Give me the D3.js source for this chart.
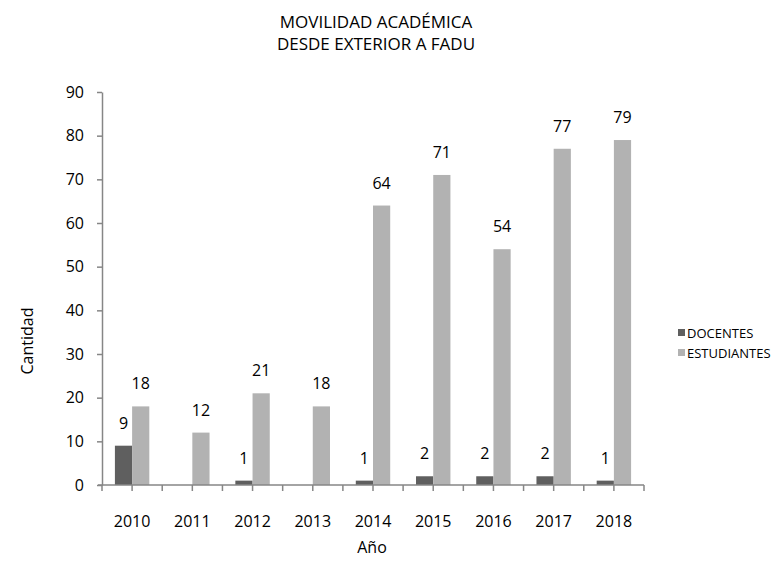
<!DOCTYPE html>
<html>
<head>
<meta charset="utf-8">
<script src="https://cdn.jsdelivr.net/npm/d3@7"></script>
<style>
  body { margin: 0; background: #fff; }
  svg text { font-family: "Open Sans", sans-serif; fill: #000; }
</style>
</head>
<body>
<svg class="chart-svg" width="780" height="561"></svg>
<script>
// data
const years = ["2010", "2011", "2012", "2013", "2014", "2015", "2016", "2017", "2018"];
const docentes = [9, 0, 1, 0, 1, 2, 2, 2, 1];
const estudiantes = [18, 12, 21, 18, 64, 71, 54, 77, 79];
const seriesNames = ["DOCENTES", "ESTUDIANTES"];
const seriesColors = ["#5f5f5f", "#b2b2b2"];
const yTicks = [0, 10, 20, 30, 40, 50, 60, 70, 80, 90];

function drawChart() {
    const svg = d3.select(".chart-svg");
    const left = 102, right = 644, top = 92, bottom = 485;
    const axisColor = "#868686";

    const x = d3.scaleBand().domain(years).range([left, right]);
    // gap width 150% -> each bar is band / 3.5
    const barW = x.bandwidth() / 3.5;
    const y = d3.scaleLinear().domain([0, 90]).range([bottom, top]);

    // title
    svg.append("text").attr("x", 376).attr("y", 28).attr("text-anchor", "middle")
        .style("font-size", "17px").text("MOVILIDAD ACADÉMICA");
    svg.append("text").attr("x", 376).attr("y", 50).attr("text-anchor", "middle")
        .style("font-size", "17px").text("DESDE EXTERIOR A FADU");

    // bars
    const rows = years.map((yr, i) => ({ year: yr, vals: [docentes[i], estudiantes[i]] }));
    const groups = svg.append("g").selectAll("g")
        .data(rows).enter().append("g");

    groups.selectAll("rect")
        .data(d => d.vals.map((v, s) => ({ year: d.year, v: v, s: s })))
        .enter().append("rect")
        .attr("x", d => x(d.year) + x.bandwidth() / 2 - barW + d.s * barW)
        .attr("y", d => y(d.v))
        .attr("width", barW)
        .attr("height", d => y(0) - y(d.v))
        .attr("fill", d => seriesColors[d.s]);

    // value labels (zeros are not shown)
    groups.selectAll("text")
        .data(d => d.vals.map((v, s) => ({ year: d.year, v: v, s: s })).filter(d => d.v > 0))
        .enter().append("text")
        .attr("x", d => x(d.year) + x.bandwidth() / 2 - barW + d.s * barW + barW / 2)
        .attr("y", d => y(d.v) - 17)
        .attr("text-anchor", "middle")
        .style("font-size", "16px")
        .text(d => d.v);

    // y axis
    const yAxis = svg.append("g")
        .attr("transform", `translate(${left},0)`)
        .call(d3.axisLeft(y).tickValues(yTicks).tickSize(5).tickSizeOuter(0).tickPadding(13));
    yAxis.select(".domain").attr("stroke", axisColor).attr("stroke-width", 1.5);
    yAxis.selectAll(".tick line").attr("stroke", axisColor).attr("stroke-width", 1.5);
    yAxis.selectAll(".tick text").style("font-size", "16px").style("font-family", "Open Sans").attr("fill", "#000");

    // x axis: ticks every half band as in the original
    const xAxis = svg.append("g").attr("transform", `translate(0,${bottom})`);
    xAxis.append("line").attr("x1", left - 4).attr("x2", right)
        .attr("stroke", axisColor).attr("stroke-width", 1.5);
    const halfTicks = d3.range(0, years.length * 2 + 1).map(k => left + k * x.bandwidth() / 2);
    xAxis.selectAll(".ht").data(halfTicks).enter().append("line")
        .attr("x1", d => d).attr("x2", d => d).attr("y1", 0).attr("y2", 6)
        .attr("stroke", axisColor).attr("stroke-width", 1.5);
    xAxis.selectAll(".lbl").data(years).enter().append("text")
        .attr("x", d => x(d) + x.bandwidth() / 2)
        .attr("y", 42)
        .attr("text-anchor", "middle")
        .style("font-size", "16px")
        .text(d => d);

    // axis titles
    svg.append("text").attr("x", 372).attr("y", 553).attr("text-anchor", "middle")
        .style("font-size", "16px").text("Año");
    svg.append("text").attr("transform", "translate(33,341) rotate(-90)")
        .attr("text-anchor", "middle").style("font-size", "16px").text("Cantidad");

    // legend
    const legend = svg.append("g").attr("transform", "translate(678,333)");
    const li = legend.selectAll("g").data(seriesNames).enter().append("g")
        .attr("transform", (d, i) => `translate(0,${i * 20})`);
    li.append("rect").attr("x", 0).attr("y", -4).attr("width", 7).attr("height", 7)
        .attr("fill", (d, i) => seriesColors[i]);
    li.append("text").attr("x", 9).attr("y", 4.5).style("font-size", "13px").text(d => d);
}

document.addEventListener("DOMContentLoaded", drawChart);
</script>
</body>
</html>
